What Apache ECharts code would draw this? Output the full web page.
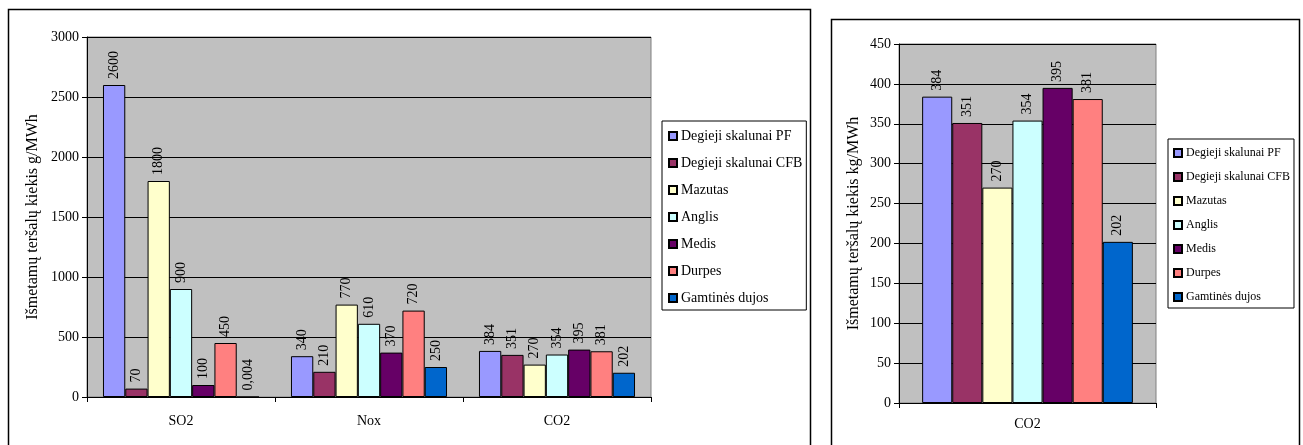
<!DOCTYPE html>
<html>
<head>
<meta charset="utf-8">
<script src="https://cdn.jsdelivr.net/npm/echarts@6/dist/echarts.min.js"></script>
<style>
  html, body { margin: 0; padding: 0; background: #fff; }
  #chart { width: 1303px; height: 445px; }
</style>
</head>
<body>
<div id="chart"></div>
<script>
// Pollutant categories (left chart) and the CO2-only category (right chart)
const categories = ['SO2', 'Nox', 'CO2'];
const co2Category = ['CO2'];

// Fuel types, in legend order
const fuels = ['Degieji skalunai PF', 'Degieji skalunai CFB', 'Mazutas', 'Anglis', 'Medis', 'Durpes', 'Gamtinės dujos'];

// Emissions per fuel for SO2, Nox, CO2 (g/MWh)
const pfValues = [2600, 340, 384];
const cfbValues = [70, 210, 351];
const mazutasValues = [1800, 770, 270];
const anglisValues = [900, 610, 354];
const medisValues = [100, 370, 395];
const durpesValues = [450, 720, 381];
const dujosValues = [0.004, 250, 202];

// CO2 emissions per fuel (kg/MWh)
const co2Values = [384, 351, 270, 354, 395, 381, 202];

// Y axis tick settings
const leftAxis = { min: 0, max: 3000, interval: 500 };
const rightAxis = { min: 0, max: 450, interval: 50 };

const colors = ['#9999FF', '#993366', '#FFFFCC', '#CCFFFF', '#660066', '#FF8080', '#0066CC'];
const serif = 'Liberation Serif, Times New Roman, serif';

const leftSeriesData = [pfValues, cfbValues, mazutasValues, anglisValues, medisValues, durpesValues, dujosValues];

function valueLabel(size) {
  return {
    show: true,
    position: 'top',
    rotate: 90,
    align: 'left',
    verticalAlign: 'middle',
    distance: 6,
    fontFamily: serif,
    fontSize: size,
    color: '#000',
    formatter: p => String(p.value).replace('.', ',')
  };
}

function yAxisCfg(gridIndex, range, name, nameGap) {
  return {
    type: 'value',
    gridIndex,
    min: range.min, max: range.max, interval: range.interval,
    name,
    nameLocation: 'middle',
    nameGap,
    nameTextStyle: { fontFamily: serif, fontSize: 16, color: '#000' },
    axisLine: { show: true, lineStyle: { color: '#000', width: 1 } },
    axisTick: { show: true, length: 5, lineStyle: { color: '#000' } },
    axisLabel: { fontFamily: serif, fontSize: 14, color: '#000', margin: 8, formatter: v => String(v) },
    splitLine: { show: true, lineStyle: { color: '#000', width: 1 } }
  };
}

function xAxisCfg(gridIndex, data, margin) {
  return {
    type: 'category',
    gridIndex,
    data,
    axisLine: { show: true, lineStyle: { color: '#000', width: 1 } },
    axisTick: { show: true, length: 5, lineStyle: { color: '#000' } },
    axisLabel: { fontFamily: serif, fontSize: 14, color: '#000', margin },
    splitLine: { show: false }
  };
}

const series = [];
fuels.forEach((fuel, i) => {
  series.push({
    name: fuel,
    type: 'bar',
    xAxisIndex: 0,
    yAxisIndex: 0,
    data: leftSeriesData[i],
    barGap: '0%',
    barCategoryGap: '17%',
    itemStyle: { color: colors[i], borderColor: '#000', borderWidth: 1 },
    label: valueLabel(14),
    animation: false
  });
});
fuels.forEach((fuel, i) => {
  series.push({
    name: fuel,
    type: 'bar',
    xAxisIndex: 1,
    yAxisIndex: 1,
    data: [co2Values[i]],
    barGap: '0%',
    barCategoryGap: '18%',
    itemStyle: { color: colors[i], borderColor: '#000', borderWidth: 1 },
    label: valueLabel(14),
    animation: false
  });
});

function legendCfg(left, top, fontSize, lineHeight, gap, padding) {
  return {
    data: fuels,
    orient: 'vertical',
    left, top,
    itemWidth: 8,
    itemHeight: 8,
    itemGap: gap,
    icon: 'rect',
    padding,
    borderColor: '#000',
    borderWidth: 1,
    backgroundColor: '#fff',
    selectedMode: false,
    textStyle: { fontFamily: serif, fontSize, color: '#000', lineHeight, padding: [0, 0, 0, -1] }
  };
}

const chart = echarts.init(document.getElementById('chart'), null, { renderer: 'canvas' });
chart.setOption({
  animation: false,
  color: colors,
  graphic: [
    { type: 'rect', shape: { x: 8.5, y: 9.5, width: 802, height: 440 }, style: { fill: 'none', stroke: '#000', lineWidth: 1.5 }, z: 0 },
    { type: 'rect', shape: { x: 831.5, y: 19.5, width: 468, height: 430 }, style: { fill: 'none', stroke: '#000', lineWidth: 1.5 }, z: 0 }
  ],
  grid: [
    { left: 87, top: 37, width: 564, height: 360, show: true, backgroundColor: '#C0C0C0', borderColor: '#808080', borderWidth: 1 },
    { left: 899, top: 44, width: 257, height: 359, show: true, backgroundColor: '#C0C0C0', borderColor: '#808080', borderWidth: 1 }
  ],
  legend: [
    legendCfg(662, 121, 14, 16, 11, [7, 4, 4, 6]),
    legendCfg(1168, 139, 12, 14, 10, [7, 4, 4, 5])
  ],
  xAxis: [xAxisCfg(0, categories, 17), xAxisCfg(1, co2Category, 14)],
  yAxis: [
    yAxisCfg(0, leftAxis, 'Išmetamų teršalų kiekis g/MWh', 46),
    yAxisCfg(1, rightAxis, 'Išmetamų teršalų kiekis kg/MWh', 37)
  ],
  series
});
</script>
</body>
</html>
